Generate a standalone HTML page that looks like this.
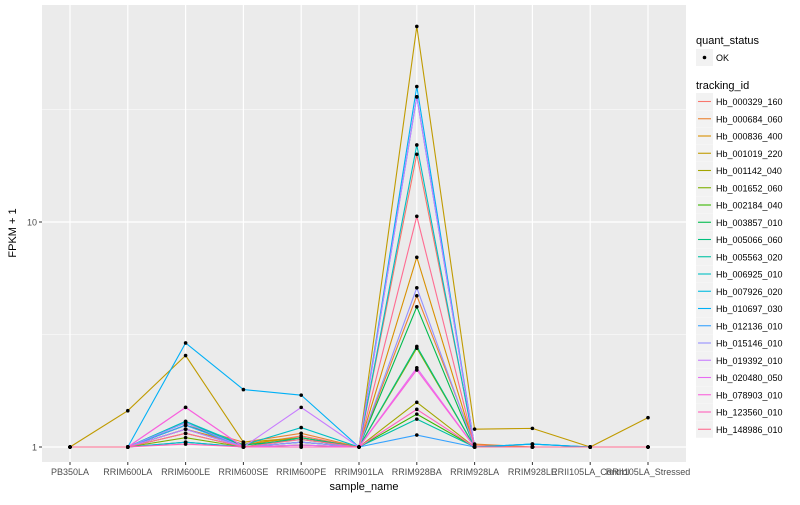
<!DOCTYPE html>
<html><head><meta charset="utf-8"><style>
body{margin:0;background:#fff;font-family:"Liberation Sans",sans-serif}
svg text{font-family:"Liberation Sans",sans-serif}
</style></head><body>
<svg id="c" width="800" height="500" xmlns="http://www.w3.org/2000/svg"></svg>
<script>
const categories=["PB350LA","RRIM600LA","RRIM600LE","RRIM600SE","RRIM600PE","RRIM901LA","RRIM928BA","RRIM928LA","RRIM928LE","RRII105LA_Control","RRII105LA_Stressed"];
const trackingIds=["Hb_000329_160","Hb_000684_060","Hb_000836_400","Hb_001019_220","Hb_001142_040","Hb_001652_060","Hb_002184_040","Hb_003857_010","Hb_005066_060","Hb_005563_020","Hb_006925_010","Hb_007926_020","Hb_010697_030","Hb_012136_010","Hb_015146_010","Hb_019392_010","Hb_020480_050","Hb_078903_010","Hb_123560_010","Hb_148986_010"];
const colors=["#F8766D","#EA8331","#D89000","#C09B00","#A3A500","#7CAE00","#39B600","#00BB4E","#00BF7D","#00C1A3","#00BFC4","#00BAE0","#00B0F6","#35A2FF","#9590FF","#C77CFF","#E76BF3","#FA62DB","#FF62BC","#FF6C91"];
const s0=[1,1,1.2,1.02,1.12,1,20,1.02,1,1,1];
const s1=[1,1,1.25,1.05,1.15,1,4.7,1.03,1,1,1];
const s2=[1,1,1.2,1.03,1.1,1,6.97,1,1,1,1];
const s3=[1,1.45,2.55,1.05,1.1,1,74,1.2,1.21,1,1.35];
const s4=[1,1,1.15,1,1.05,1,1.58,1,1,1,1];
const s5=[1,1,1.1,1,1.02,1,2.75,1,1,1,1];
const s6=[1,1,1.05,1,1,1,1.4,1,1,1,1];
const s7=[1,1,1.25,1.02,1.08,1,4.2,1,1,1,1];
const s8=[1,1,1.3,1,1.1,1,2.8,1,1,1,1];
const s9=[1,1,1.2,1,1.05,1,1.33,1,1,1,1];
const s10=[1,1,1.3,1.02,1.22,1,22,1,1.03,1,1];
const s11=[1,1,1.05,1,1,1,36,1,1.03,1,1];
const s12=[1,1,2.9,1.8,1.7,1,40,1,1.03,1,1];
const s13=[1,1,1.25,1,1.05,1,1.13,1,1,1,1];
const s14=[1,1,1.28,1,1.05,1,5.1,1,1,1,1];
const s15=[1,1,1.2,1,1.5,1,36,1,1,1,1];
const s16=[1,1,1.5,1,1.02,1,2.25,1,1,1,1];
const s17=[1,1,1.5,1,1,1,2.2,1,1,1,1];
const s18=[1,1,1.03,1,1,1,1.47,1,1,1,1];
const s19=[1,1,1.15,1,1.08,1,10.6,1,1,1,1];
const series=[s0,s1,s2,s3,s4,s5,s6,s7,s8,s9,s10,s11,s12,s13,s14,s15,s16,s17,s18,s19];
const yTicks=[1,10];

const NS="http://www.w3.org/2000/svg";
const svg=document.getElementById("c");
const L=42,R=686,T=5,B=462;
const x=i=>70+i*57.8;
const y=v=>447-225*Math.log10(v);
function el(t,a,p){const e=document.createElementNS(NS,t);for(const k in a)e.setAttribute(k,a[k]);(p||svg).appendChild(e);return e;}
const panel=el("rect",{x:L,y:T,width:R-L,height:B-T,fill:"#EBEBEB"});


[Math.sqrt(10),Math.sqrt(1000)].forEach(v=>{const g=el("line",{x1:L,x2:R,y1:y(v),y2:y(v),stroke:"#fff","stroke-width":0.6});

});
yTicks.forEach(v=>{const g=el("line",{x1:L,x2:R,y1:y(v),y2:y(v),stroke:"#fff","stroke-width":1.2});


const tk=el("line",{x1:L-3,x2:L,y1:y(v),y2:y(v),stroke:"#333"});


const t=el("text",{x:L-5,y:y(v)+3.5,"font-size":9,fill:"#4d4d4d","text-anchor":"end"});t.textContent=v;

});
categories.forEach((c,i)=>{const g=el("line",{x1:x(i),x2:x(i),y1:T,y2:B,stroke:"#fff","stroke-width":1.2});


const tk=el("line",{x1:x(i),x2:x(i),y1:B,y2:B+3,stroke:"#333"});


const t=el("text",{x:x(i),y:B+13,"font-size":9,fill:"#4d4d4d","text-anchor":"middle"});t.textContent=c;

});
series.forEach((s,k)=>{const p=el("polyline",{points:s.map((v,i)=>x(i)+","+y(v)).join(" "),fill:"none",stroke:colors[k],"stroke-width":1.1});

});
series.forEach((s,k)=>s.forEach((v,i)=>{const d=el("circle",{cx:x(i),cy:y(v),r:1.8,fill:"#000"});

}));
let t=el("text",{x:(L+R)/2,y:490,"font-size":11,fill:"#000","text-anchor":"middle"});t.textContent="sample_name";


t=el("text",{x:16,y:233,"font-size":11,fill:"#000","text-anchor":"middle",transform:"rotate(-90 16 233)"});t.textContent="FPKM + 1";


t=el("text",{x:696,y:44,"font-size":11,fill:"#000"});t.textContent="quant_status";


let r=el("rect",{x:696,y:49,width:17,height:17,fill:"#F2F2F2"});


let c=el("circle",{cx:704.5,cy:57.5,r:1.8,fill:"#000"});


t=el("text",{x:716,y:61,"font-size":9,fill:"#000"});t.textContent="OK";


t=el("text",{x:696,y:89,"font-size":11,fill:"#000"});t.textContent="tracking_id";


trackingIds.forEach((id,k)=>{const yy=93+k*17.25;
const g=el("g",{});


el("rect",{x:696,y:yy,width:17,height:17,fill:"#F2F2F2"},g);
el("line",{x1:698,x2:711,y1:yy+8.5,y2:yy+8.5,stroke:colors[k],"stroke-width":1.1},g);
const tt=el("text",{x:716,y:yy+12,"font-size":9,fill:"#000"},g);tt.textContent=id;});
</script>
</body></html>
